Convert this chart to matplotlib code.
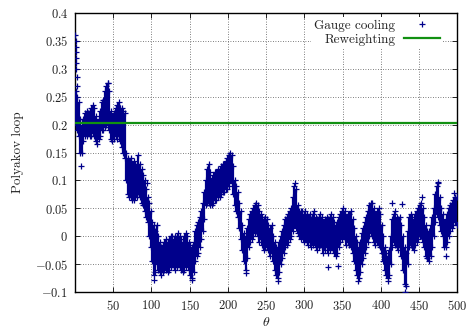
import numpy as np
import matplotlib
matplotlib.use('Agg')
import matplotlib.pyplot as plt

plt.rcParams['font.family'] = 'serif'
plt.rcParams['font.serif'] = ['cmr10']
plt.rcParams['mathtext.fontset'] = 'cm'
plt.rcParams['axes.formatter.use_mathtext'] = True

# band of the gauge cooling history, read per theta column (every 2 units)
theta = np.arange(1, 500, 2)
lo = [0.20, 0.19, 0.18, 0.15, 0.15, 0.17, 0.18, 0.18, 0.185, 0.18,
      0.18, 0.185, 0.18, 0.17, 0.165, 0.175, 0.18, 0.19, 0.19, 0.195,
      0.2, 0.2, 0.19, 0.175, 0.17, 0.175, 0.18, 0.175, 0.18, 0.17,
      0.16, 0.15, 0.14, 0.1, 0.075, 0.07, 0.07, 0.065, 0.065, 0.07,
      0.07, 0.08, 0.07, 0.06, 0.055, 0.045, 0.035, 0.025, 0.0, -0.02,
      -0.045, -0.07, -0.065, -0.05, -0.06, -0.065, -0.07, -0.065, -0.06, -0.06,
      -0.065, -0.06, -0.055, -0.05, -0.055, -0.06, -0.055, -0.05, -0.055, -0.06,
      -0.065, -0.06, -0.055, -0.05, -0.06, -0.07, -0.075, -0.065, -0.045, -0.035,
      -0.03, -0.02, -0.005, 0.01, 0.03, 0.055, 0.06, 0.06, 0.055, 0.055,
      0.06, 0.065, 0.065, 0.07, 0.07, 0.075, 0.08, 0.08, 0.085, 0.085,
      0.09, 0.1, 0.095, 0.075, 0.055, 0.045, 0.035, 0.015, -0.005, -0.025,
      -0.045, -0.06, -0.04, -0.02, -0.01, -0.005, 0.0, 0.005, 0.01, 0.0,
      -0.01, -0.005, -0.015, -0.025, -0.02, -0.02, -0.025, -0.035, -0.03, -0.045,
      -0.06, -0.07, -0.075, -0.065, -0.05, -0.04, -0.03, -0.02, -0.015, -0.01,
      -0.005, 0.0, 0.01, 0.02, 0.015, 0.005, 0.0, -0.005, 0.0, -0.01,
      -0.005, -0.01, -0.015, -0.01, -0.02, -0.015, -0.01, -0.02, -0.025, -0.02,
      -0.015, -0.02, -0.03, -0.025, -0.02, -0.03, -0.025, -0.02, -0.025, -0.03,
      -0.035, -0.03, -0.02, -0.01, -0.005, 0.0, -0.005, -0.015, -0.01, -0.015,
      -0.02, -0.03, -0.045, -0.06, -0.07, -0.075, -0.065, -0.05, -0.04, -0.03,
      -0.02, -0.01, 0.0, 0.005, 0.0, -0.01, -0.015, -0.01, -0.015, -0.02,
      -0.03, -0.045, -0.06, -0.07, -0.075, -0.07, -0.05, -0.02, -0.01, -0.015,
      -0.02, -0.025, -0.02, -0.035, -0.06, -0.085, -0.09, -0.05, -0.02, -0.015,
      -0.02, -0.025, -0.015, -0.01, -0.005, 0.0, 0.0, -0.01, -0.02, -0.035,
      -0.04, -0.045, -0.035, -0.02, 0.0, 0.025, 0.04, 0.035, 0.02, 0.01,
      0.0, -0.02, -0.02, -0.01, 0.0, 0.01, 0.015, 0.02, 0.025, 0.02]
hi = [0.26, 0.25, 0.24, 0.21, 0.20, 0.21, 0.22, 0.225, 0.22, 0.225,
      0.23, 0.235, 0.23, 0.215, 0.205, 0.21, 0.225, 0.24, 0.245, 0.26,
      0.27, 0.275, 0.26, 0.225, 0.215, 0.22, 0.23, 0.235, 0.24, 0.23,
      0.23, 0.225, 0.22, 0.15, 0.14, 0.135, 0.14, 0.13, 0.135, 0.13,
      0.13, 0.145, 0.13, 0.12, 0.11, 0.1, 0.085, 0.07, 0.06, 0.045,
      0.025, 0.02, 0.01, 0.02, 0.0, -0.01, -0.02, -0.015, -0.01, -0.005,
      -0.01, -0.005, 0.0, 0.0, -0.005, 0.0, 0.0, 0.005, 0.0, -0.005,
      -0.01, 0.0, 0.005, 0.0, -0.01, -0.015, -0.02, -0.01, 0.01, 0.02,
      0.025, 0.035, 0.045, 0.06, 0.08, 0.1, 0.12, 0.13, 0.115, 0.105,
      0.11, 0.115, 0.115, 0.12, 0.12, 0.125, 0.13, 0.13, 0.135, 0.14,
      0.145, 0.15, 0.145, 0.125, 0.1, 0.09, 0.08, 0.06, 0.045, 0.02,
      0.005, 0.0, 0.015, 0.03, 0.04, 0.045, 0.05, 0.055, 0.06, 0.055,
      0.045, 0.04, 0.035, 0.03, 0.035, 0.03, 0.02, 0.015, 0.02, 0.0,
      -0.01, -0.02, -0.02, -0.01, 0.0, 0.01, 0.02, 0.03, 0.035, 0.04,
      0.045, 0.05, 0.07, 0.09, 0.085, 0.055, 0.045, 0.045, 0.045, 0.04,
      0.045, 0.04, 0.035, 0.04, 0.03, 0.04, 0.045, 0.035, 0.03, 0.035,
      0.04, 0.035, 0.025, 0.03, 0.035, 0.03, 0.035, 0.04, 0.035, 0.025,
      0.02, 0.025, 0.035, 0.04, 0.045, 0.05, 0.045, 0.035, 0.04, 0.04,
      0.045, 0.03, 0.015, 0.0, -0.01, -0.02, -0.01, 0.005, 0.015, 0.025,
      0.035, 0.045, 0.055, 0.06, 0.06, 0.05, 0.04, 0.045, 0.05, 0.04,
      0.02, 0.0, -0.02, -0.03, -0.035, -0.025, 0.0, 0.03, 0.04, 0.045,
      0.035, 0.03, 0.035, 0.02, 0.0, -0.02, -0.03, 0.01, 0.035, 0.04,
      0.035, 0.03, 0.04, 0.045, 0.05, 0.055, 0.06, 0.05, 0.035, 0.02,
      0.01, 0.01, 0.02, 0.035, 0.05, 0.075, 0.09, 0.095, 0.07, 0.05,
      0.04, 0.025, 0.03, 0.04, 0.05, 0.055, 0.06, 0.065, 0.07, 0.07]

# stray points outside the band
theta_out = [0.5, 0.8, 1.0, 1.2, 1.4, 1.6, 1.8, 2.0, 2.3, 8, 43, 94, 103, 153,
             223, 265, 288, 331, 344, 370, 409, 414, 428, 432, 454, 475, 485, 496]
val_out = [0.36, 0.35, 0.34, 0.33, 0.32, 0.31, 0.30, 0.285, 0.27, 0.126, 0.275,
           0.095, -0.078, -0.078, -0.066, -0.08, 0.095, -0.055, -0.053, -0.08,
           -0.08, 0.06, 0.057, -0.1, 0.07, 0.097, -0.035, 0.078]

reweight_theta = [0.5, 500]
reweight_val = [0.203, 0.203]

yticks = [-0.1, -0.05, 0, 0.05, 0.1, 0.15, 0.2, 0.25, 0.3, 0.35, 0.4]
ytick_labels = ['$-0.1$', '$-0.05$', '$0$', '$0.05$', '$0.1$', '$0.15$',
                '$0.2$', '$0.25$', '$0.3$', '$0.35$', '$0.4$']
xticks = [50, 100, 150, 200, 250, 300, 350, 400, 450, 500]

navy = '#00008b'
fig = plt.figure(figsize=(4.69, 3.28), dpi=100)
ax = fig.add_axes([0.16, 0.11, 0.815, 0.85])

ax.vlines(theta, lo, hi, color=navy, lw=1.6, zorder=3)
ax.plot(theta, lo, '+', color=navy, ms=4.5, mew=0.9, zorder=3)
ax.plot(theta, hi, '+', color=navy, ms=4.5, mew=0.9, zorder=3, label='Gauge cooling')
ax.plot(theta_out, val_out, '+', color=navy, ms=4.5, mew=0.9, zorder=3)
ax.plot(reweight_theta, reweight_val, color='#119011', lw=1.6, zorder=4,
        label='Reweighting')

ax.set_xlim(0, 500)
ax.set_ylim(-0.1, 0.4)
ax.set_xticks(xticks)
ax.set_xticklabels(['$%d$' % t for t in xticks])
ax.set_yticks(yticks)
ax.set_yticklabels(ytick_labels)
ax.tick_params(direction='in', top=True, right=True, length=3.5, width=0.7,
               labelsize=9, colors='#222222', pad=5)
ax.grid(True, color='#555555', ls=(0, (1, 2)), lw=0.6)
ax.set_axisbelow(True)
for s in ax.spines.values():
    s.set_linewidth(1.0)

ax.set_xlabel(r'$\theta$', fontsize=10, color='#222222', labelpad=2)
ax.set_ylabel('Polyakov loop', fontsize=9.5, color='#222222', labelpad=8)

leg = ax.legend(loc='upper right', bbox_to_anchor=(0.972, 1.0),
                markerfirst=False, fontsize=9.5,
                frameon=True, fancybox=False, framealpha=1, edgecolor='none',
                handlelength=2.7, handletextpad=0.7, labelspacing=0.1,
                borderpad=0.2, borderaxespad=0.3)
for t in leg.get_texts():
    t.set_color('#222222')

fig.savefig('out.png', dpi=100)
